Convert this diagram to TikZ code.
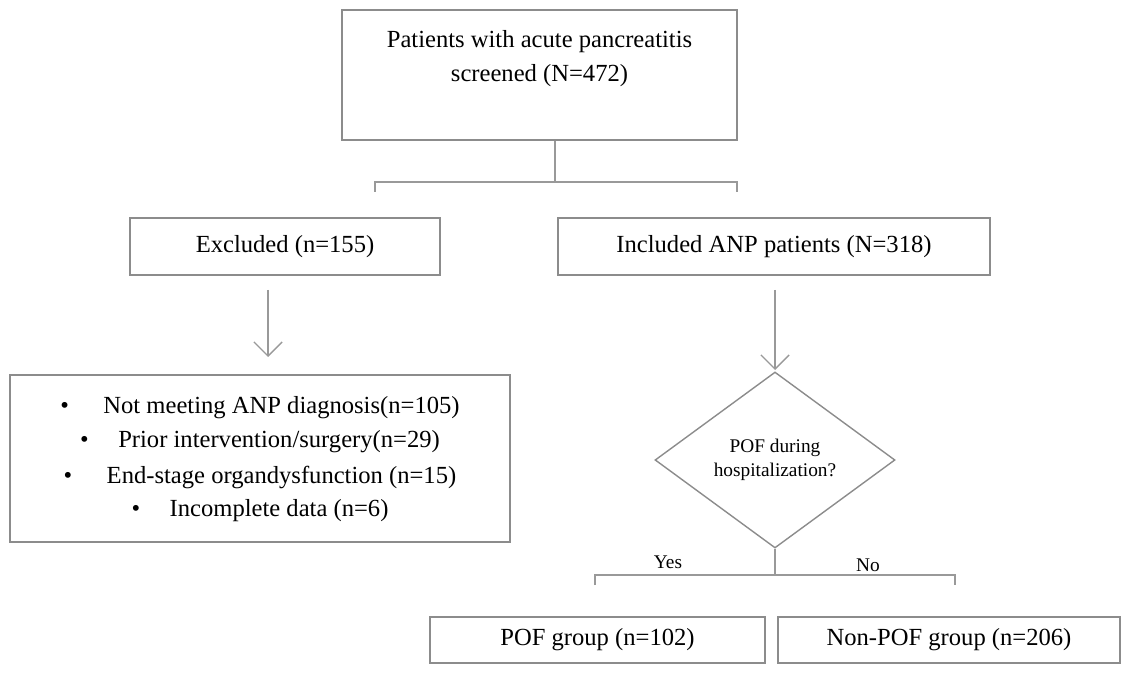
\documentclass[tikz,border=0pt]{standalone}
\usepackage{fontspec}
\setmainfont{Liberation Serif}
\usetikzlibrary{shapes.geometric,arrows.meta}
\begin{document}
\begin{tikzpicture}[x=0.02cm,y=-0.02cm,
 box/.style={draw=black!45,line width=0.8pt,inner sep=0,font=\fontsize{14}{20}\selectfont,align=center},
 ln/.style={draw=black!40,line width=0.8pt},
 arr/.style={ln,-{Straight Barb[length=8pt,width=16pt]}}]
\useasboundingbox (0,0) rectangle (1132,675);
\node[box,minimum width=395*0.02cm,minimum height=130*0.02cm] (top) at (539.5,75) {};
\node[font=\fontsize{14}{20}\selectfont] (t1) at (539.5,42) {Patients with acute pancreatitis};
\node[font=\fontsize{14}{20}\selectfont] (t2) at (539.5,76) {screened (N=472)};
\node[box,minimum width=310*0.02cm,minimum height=57*0.02cm] (exc) at (285,246.5) {Excluded (n=155)};
\node[box,minimum width=432*0.02cm,minimum height=57*0.02cm] (inc) at (774,246.5) {Included ANP patients (N=318)};
\coordinate (b1) at (555,182);
\draw[ln] (top.south -| b1) -- (b1);
\draw[ln] (375,192) -- (375,182) -- (737,182) -- (737,192);
\coordinate (la) at (268,290); \coordinate (lb) at (268,357);
\draw[arr] (la) -- (lb);
\coordinate (ra) at (775,290); \coordinate (rb) at (775,370);
\draw[arr] (ra) -- (rb);
\node[box,minimum width=500*0.02cm,minimum height=167*0.02cm] (list) at (260,458.5) {};
\begin{scope}[every node/.style={font=\fontsize{14}{20}\selectfont}]
\node (l1) at (260,408) {\textbullet\hspace{1.4em}Not meeting ANP diagnosis(n=105)};
\node (l2) at (260,442) {\textbullet\hspace{1.2em}Prior intervention/surgery(n=29)};
\node (l3) at (260,477) {\textbullet\hspace{1.4em}End-stage organdysfunction (n=15)};
\node (l4) at (260,511) {\textbullet\hspace{1.2em}Incomplete data (n=6)};
\end{scope}
\node[draw=black!45,line width=0.8pt,diamond,minimum width=240*0.02cm,minimum height=176*0.02cm,inner sep=0,aspect=1.36,font=\fontsize{11}{14}\selectfont,align=center] (d) at (775,460) {POF during\\hospitalization?};
\coordinate (j) at (775,575);
\draw[ln] (d.south) -- (j);
\draw[ln] (595,585) -- (595,575) -- (955,575) -- (955,585);
\node[font=\fontsize{11}{14}\selectfont] (yes) at (668,562) {Yes};
\node[font=\fontsize{11}{14}\selectfont] (no) at (868,565) {No};
\node[box,minimum width=335*0.02cm,minimum height=46*0.02cm] (pof) at (597.5,640) {POF group (n=102)};
\node[box,minimum width=342*0.02cm,minimum height=46*0.02cm] (npof) at (949,640) {Non-POF group (n=206)};
\end{tikzpicture}
\end{document}
